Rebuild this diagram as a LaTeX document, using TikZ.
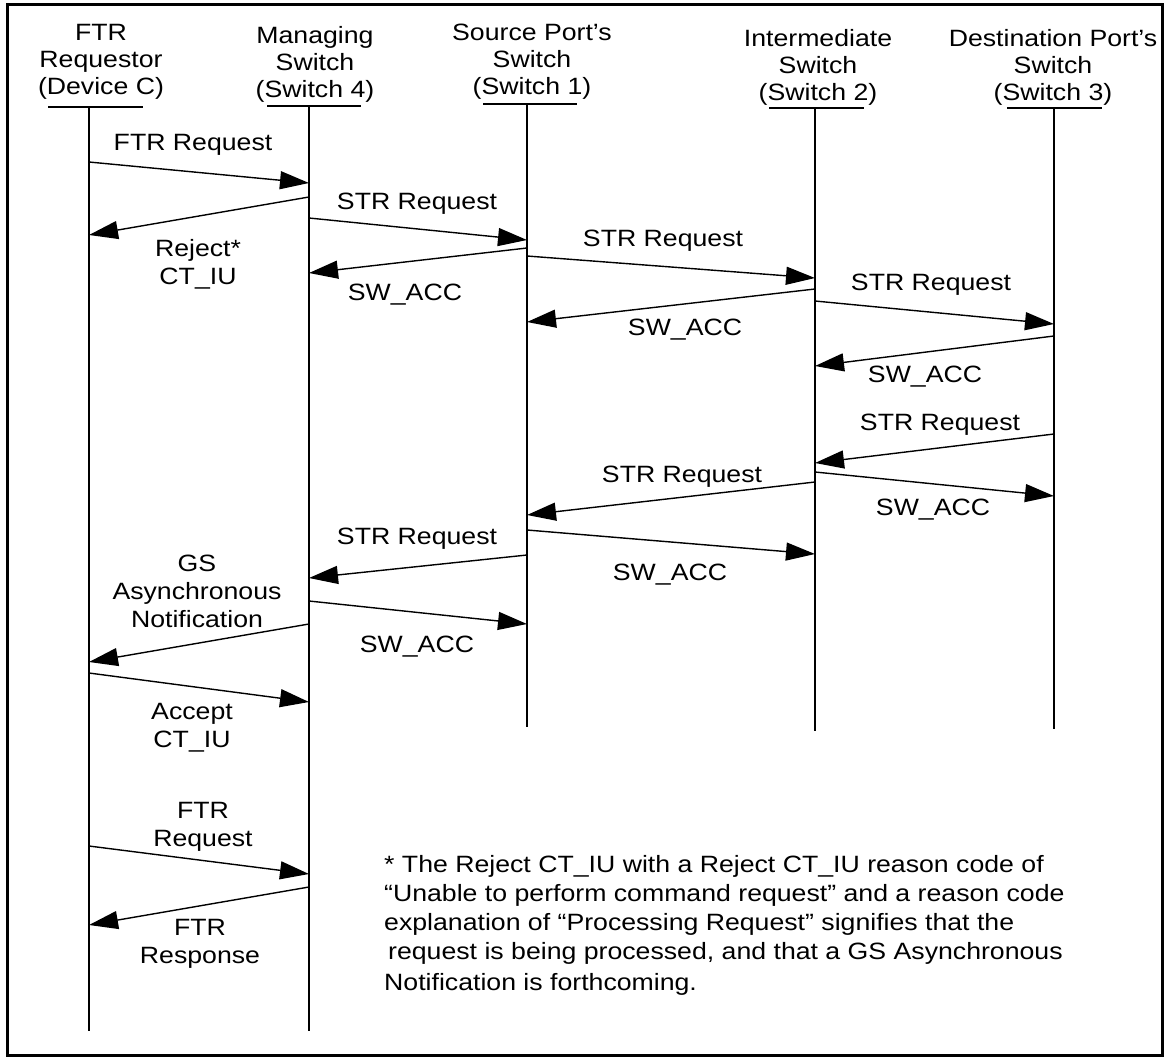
\documentclass[tikz,border=0pt]{standalone}
\usepackage{fontspec}
\setmainfont{Liberation Sans}[FakeStretch=1.13]
\usetikzlibrary{arrows.meta}
\tikzset{
  participant/.style={align=center, inner sep=0pt, font=\fontsize{23.6}{27}\selectfont},
  lifeline/.style={line width=1.3pt},
  message/.style={line width=1.4pt, -{Triangle[length=29pt,width=18pt]}},
  message label/.style={align=center, inner sep=0pt, font=\fontsize{23.6}{28}\selectfont},
  note text/.style={align=left, inner sep=0pt, anchor=north west, font=\fontsize{23.6}{29}\selectfont},
}

\begin{document}
\begin{tikzpicture}[x=1pt,y=-1pt]
\useasboundingbox (0,0) rectangle (1169,1057);
\draw[line width=3pt] (7,5) rectangle (1162,1055);
% the participants
\node [participant] (reqhead) at (101,62) {FTR\\Requestor\\(Device C)};
\node [participant] (sw4head) at (315,64) {Managing\\Switch\\(Switch 4)};
\node [participant] (sw1head) at (532,62) {Source Port’s\\Switch\\(Switch 1)};
\node [participant] (sw2head) at (818,67) {Intermediate\\Switch\\(Switch 2)};
\node [participant] (sw3head) at (1053,67) {Destination Port’s\\Switch\\(Switch 3)};
\coordinate (req) at (89,107);
\coordinate (sw4) at (309,106);
\coordinate (sw1) at (527,104);
\coordinate (sw2) at (815,108);
\coordinate (sw3) at (1054,108);
\coordinate (reqend) at (89,1031);
\coordinate (sw4end) at (309,1031);
\coordinate (sw1end) at (527,727);
\coordinate (sw2end) at (815,731);
\coordinate (sw3end) at (1054,729);
%underlines and lifelines
\draw[lifeline] ([xshift=-41pt]req) -- ([xshift=54pt]req);
\draw[lifeline] ([xshift=-42pt]sw4) -- ([xshift=52pt]sw4);
\draw[lifeline] ([xshift=-44pt]sw1) -- ([xshift=50pt]sw1);
\draw[lifeline] ([xshift=-46pt]sw2) -- ([xshift=49pt]sw2);
\draw[lifeline] ([xshift=-47pt]sw3) -- ([xshift=48pt]sw3);
\draw[lifeline] (req) -- (reqend);
\draw[lifeline] (sw4) -- (sw4end);
\draw[lifeline] (sw1) -- (sw1end);
\draw[lifeline] (sw2) -- (sw2end);
\draw[lifeline] (sw3) -- (sw3end);
%drawings of messages
\draw[message] (req |- 0,162) -- (sw4 |- 0,183);
\draw[message] (sw4 |- 0,197) -- (req |- 0,235);
\draw[message] (sw4 |- 0,218) -- (sw1 |- 0,240);
\draw[message] (sw1 |- 0,248) -- (sw4 |- 0,273);
\draw[message] (sw1 |- 0,256) -- (sw2 |- 0,278);
\draw[message] (sw2 |- 0,289) -- (sw1 |- 0,322);
\draw[message] (sw2 |- 0,301) -- (sw3 |- 0,324);
\draw[message] (sw3 |- 0,336) -- (sw2 |- 0,366);
\draw[message] (sw3 |- 0,434) -- (sw2 |- 0,463);
\draw[message] (sw2 |- 0,472) -- (sw3 |- 0,496);
\draw[message] (sw2 |- 0,482) -- (sw1 |- 0,515);
\draw[message] (sw1 |- 0,530) -- (sw2 |- 0,554);
\draw[message] (sw1 |- 0,555) -- (sw4 |- 0,578);
\draw[message] (sw4 |- 0,601) -- (sw1 |- 0,624);
\draw[message] (sw4 |- 0,624) -- (req |- 0,662);
\draw[message] (req |- 0,673) -- (sw4 |- 0,702);
\draw[message] (req |- 0,846) -- (sw4 |- 0,874);
\draw[message] (sw4 |- 0,887) -- (req |- 0,925);
% the labels
\node [message label] (ftrreq) at (193,145) {FTR Request};
\node [message label] (reject) at (198,264) {Reject*\\CT\_IU};
\node [message label] (strA) at (417,204) {STR Request};
\node [message label] (accA) at (405,295) {SW\_ACC};
\node [message label] (strB) at (663,241) {STR Request};
\node [message label] (accB) at (685,330) {SW\_ACC};
\node [message label] (strC) at (931,285) {STR Request};
\node [message label] (accC) at (925,377) {SW\_ACC};
\node [message label] (strD) at (940,425) {STR Request};
\node [message label] (accD) at (933,510) {SW\_ACC};
\node [message label] (strE) at (682,477) {STR Request};
\node [message label] (accE) at (670,575) {SW\_ACC};
\node [message label] (strF) at (417,539) {STR Request};
\node [message label] (accF) at (417,647) {SW\_ACC};
\node [message label] (gsnote) at (197,591) {GS\\Asynchronous\\Notification};
\node [message label] (accept) at (192,728) {Accept\\CT\_IU};
\node [message label] (ftrreqB) at (203,827) {FTR\\Request};
\node [message label] (ftrresp) at (200,944) {FTR\\Response};
% the footnote
\node [note text] (footnote) at (384,855) {* The Reject CT\_IU with a Reject CT\_IU reason code of\\
“Unable to perform command request” and a reason code\\
explanation of “Processing Request” signifies that the\\
\hspace*{4pt}request is being processed, and that a GS Asynchronous\\[2pt]
Notification is forthcoming.};
\end{tikzpicture}
\end{document}
